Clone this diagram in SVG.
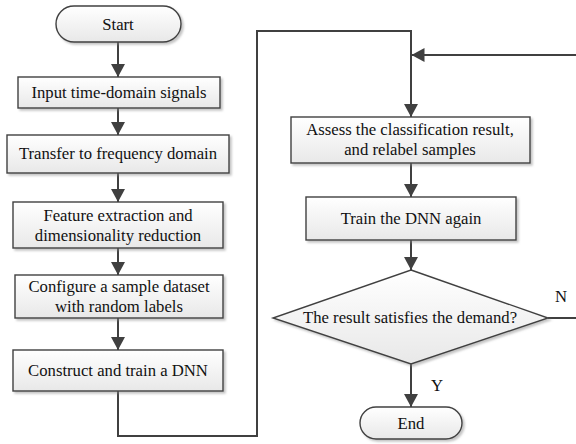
<svg xmlns="http://www.w3.org/2000/svg" width="576" height="444" viewBox="0 0 576 444">
<defs>
<linearGradient id="g" x1="0" y1="0" x2="0" y2="1">
<stop offset="0" stop-color="#ffffff"/>
<stop offset="1" stop-color="#e8e8e8"/>
</linearGradient>
<filter id="sh" x="-10%" y="-10%" width="125%" height="140%">
<feDropShadow dx="2" dy="2" stdDeviation="1" flood-color="#888" flood-opacity="0.5"/>
</filter>
<marker id="ah" markerUnits="userSpaceOnUse" markerWidth="13" markerHeight="14" refX="13" refY="7" orient="auto">
<path d="M0,0 L13,7 L0,14 z" fill="#404040"/>
</marker>
</defs>
<style>
.n{fill:url(#g);stroke:#404040;stroke-width:1.4;filter:url(#sh)}
.t{font-family:'Liberation Serif','Times New Roman','DejaVu Serif',serif;font-size:16.7px;fill:#111;text-anchor:middle}
.c{fill:none;stroke:#404040;stroke-width:2}
</style>
<g font-family="Liberation Serif, serif">
<g id="connectors">
<line class="c" x1="118" y1="42" x2="118" y2="77" marker-end="url(#ah)"/>
<line class="c" x1="118" y1="108" x2="118" y2="135" marker-end="url(#ah)"/>
<line class="c" x1="118" y1="173" x2="118" y2="202" marker-end="url(#ah)"/>
<line class="c" x1="118" y1="248" x2="118" y2="275" marker-end="url(#ah)"/>
<line class="c" x1="118" y1="318" x2="118" y2="350" marker-end="url(#ah)"/>
<path class="c" d="M118,391 V436 H257 V31 H411 V117" marker-end="url(#ah)"/>
<path class="c" d="M548,318 H584 V55 H411.5" marker-end="url(#ah)"/>
<line class="c" x1="411" y1="163" x2="411" y2="197" marker-end="url(#ah)"/>
<line class="c" x1="411" y1="240" x2="411" y2="270" marker-end="url(#ah)"/>
<line class="c" x1="411" y1="364" x2="411" y2="407" marker-end="url(#ah)"/>
<text class="t" x="561" y="302">N</text>
<text class="t" x="437" y="391">Y</text>
</g>
<g id="start">
<rect class="n" x="56" y="6" width="125" height="36" rx="18" ry="18"/>
<text class="t" x="118" y="30">Start</text>
</g>
<g id="input">
<rect class="n" x="18" y="77" width="202" height="31"/>
<text class="t" x="119" y="98">Input time-domain signals</text>
</g>
<g id="transfer">
<rect class="n" x="7" y="135" width="222" height="38"/>
<text class="t" x="118" y="159">Transfer to frequency domain</text>
</g>
<g id="feature">
<rect class="n" x="13" y="202" width="210" height="46"/>
<text class="t" x="118" y="221">Feature extraction and</text>
<text class="t" x="118" y="241">dimensionality reduction</text>
</g>
<g id="configure">
<rect class="n" x="15" y="275" width="208" height="43"/>
<text class="t" x="119" y="292">Configure a sample dataset</text>
<text class="t" x="119" y="312">with random labels</text>
</g>
<g id="construct">
<rect class="n" x="13" y="350" width="210" height="41"/>
<text class="t" x="118" y="376">Construct and train a DNN</text>
</g>
<g id="assess">
<rect class="n" x="291" y="117" width="239" height="46"/>
<text class="t" x="410" y="135">Assess the classification result,</text>
<text class="t" x="410" y="155">and relabel samples</text>
</g>
<g id="train">
<rect class="n" x="306" y="197" width="210" height="43"/>
<text class="t" x="411" y="224">Train the DNN again</text>
</g>
<g id="decision">
<polygon class="n" points="411,270 548,318 411,364 273,318"/>
<text class="t" x="410" y="323">The result satisfies the demand?</text>
</g>
<g id="end">
<rect class="n" x="360" y="407" width="102" height="32" rx="16" ry="16"/>
<text class="t" x="411" y="429">End</text>
</g>
</g>
</svg>
